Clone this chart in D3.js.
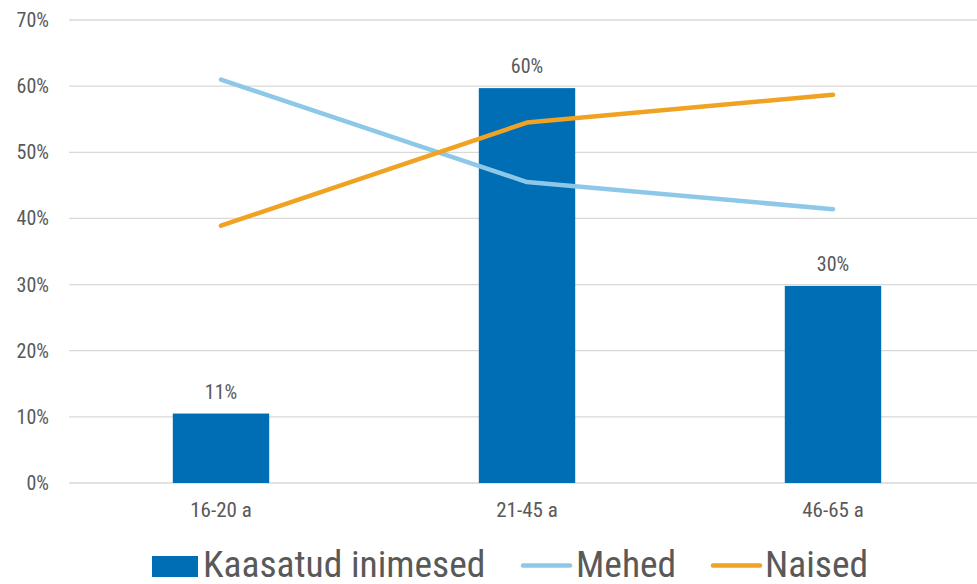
<!DOCTYPE html>
<html>
<head>
<meta charset="utf-8">
<script src="https://cdn.jsdelivr.net/npm/d3@7"></script>
<style>
  body { margin: 0; background: #fff; }
  text { font-family: "Roboto Condensed", "Liberation Sans Narrow", "DejaVu Sans Condensed", Roboto, sans-serif; fill: #595959; }
</style>
</head>
<body>
<div id="container"></div>
<script>
let categories = ["16-20 a", "21-45 a", "46-65 a"];
let kaasatud = [10.5, 59.7, 29.8];
let kaasatudLabels = ["11%", "60%", "30%"];
let mehed = [61.0, 45.5, 41.4];
let naised = [38.9, 54.5, 58.7];
let yTicks = [0, 10, 20, 30, 40, 50, 60, 70];

let colors = { bar: "#006EB4", mehed: "#8EC8E8", naised: "#F0A223" };

let svg = d3.select("#container")
    .append("svg")
    .attr("width", 977)
    .attr("height", 584);

let x = d3.scaleBand()
    .domain(categories)
    .range([68, 986])
    .paddingInner(0.685)
    .paddingOuter(0.3425);

let y = d3.scaleLinear()
    .domain([0, 70])
    .range([483, 20]);

// gridlines
svg.append("g")
    .selectAll("line")
    .data(yTicks)
    .enter()
    .append("line")
    .attr("x1", 69)
    .attr("x2", 977)
    .attr("y1", d => y(d))
    .attr("y2", d => y(d))
    .attr("stroke", "#d9d9d9")
    .attr("stroke-width", 1.3);

// y labels
svg.append("g")
    .selectAll("text")
    .data(yTicks)
    .enter()
    .append("text")
    .attr("x", 49)
    .attr("y", d => y(d))
    .attr("text-anchor", "end")
    .attr("dominant-baseline", "central")
    .attr("style", "font-size:20px")
    .text(d => d + "%");

// bars
svg.append("g")
    .selectAll("rect")
    .data(kaasatud)
    .enter()
    .append("rect")
    .attr("x", (_, i) => x(categories[i]))
    .attr("width", x.bandwidth())
    .attr("y", d => y(d))
    .attr("height", d => y(0) - y(d))
    .attr("fill", colors.bar);

// bar labels
svg.append("g")
    .selectAll("text")
    .data(kaasatud)
    .enter()
    .append("text")
    .attr("x", (_, i) => x(categories[i]) + x.bandwidth() / 2)
    .attr("y", d => y(d) - 22)
    .attr("text-anchor", "middle")
    .attr("dominant-baseline", "central")
    .attr("style", "font-size:20px")
    .text((_, i) => kaasatudLabels[i]);

// lines
let line = d3.line()
    .x((_, i) => x(categories[i]) + x.bandwidth() / 2)
    .y(d => y(d));

[[mehed, colors.mehed], [naised, colors.naised]].forEach(([vals, c]) => {
    svg.append("path")
        .attr("d", line(vals))
        .attr("fill", "none")
        .attr("stroke", c)
        .attr("stroke-width", 4.5)
        .attr("stroke-linecap", "round")
        .attr("stroke-linejoin", "round");
});

// x labels
svg.append("g")
    .selectAll("text")
    .data(categories)
    .enter()
    .append("text")
    .attr("x", d => x(d) + x.bandwidth() / 2)
    .attr("y", 510)
    .attr("text-anchor", "middle")
    .attr("dominant-baseline", "central")
    .attr("style", "font-size:21px")
    .text(d => d);

// legend
let legend = svg.append("g");
legend.append("rect")
    .attr("x", 152).attr("y", 556)
    .attr("width", 46).attr("height", 21)
    .attr("fill", colors.bar);
legend.append("text")
    .attr("x", 203).attr("y", 577)
    .attr("style", "font-size:37.5px")
    .text("Kaasatud inimesed");
legend.append("line")
    .attr("x1", 523).attr("x2", 570)
    .attr("y1", 565.5).attr("y2", 565.5)
    .attr("stroke", colors.mehed)
    .attr("stroke-width", 4.5)
    .attr("stroke-linecap", "round");
legend.append("text")
    .attr("x", 576).attr("y", 577)
    .attr("style", "font-size:37.5px")
    .text("Mehed");
legend.append("line")
    .attr("x1", 713).attr("x2", 760)
    .attr("y1", 565.5).attr("y2", 565.5)
    .attr("stroke", colors.naised)
    .attr("stroke-width", 4.5)
    .attr("stroke-linecap", "round");
legend.append("text")
    .attr("x", 765).attr("y", 577)
    .attr("style", "font-size:37.5px")
    .text("Naised");
</script>
</body>
</html>
